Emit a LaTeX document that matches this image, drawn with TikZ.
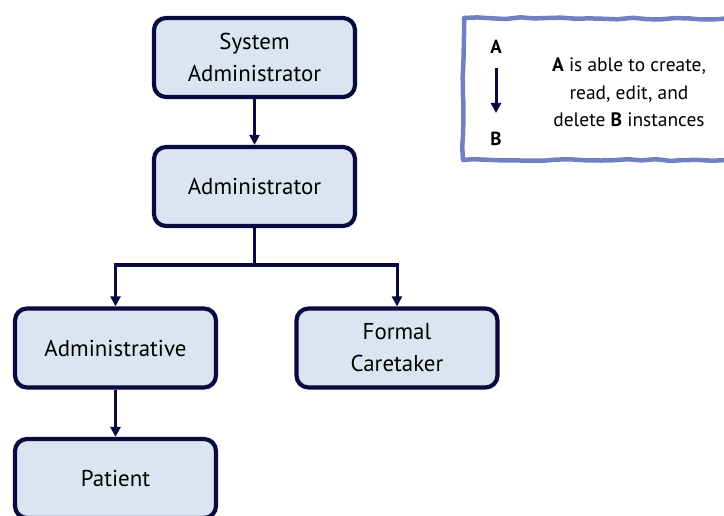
\documentclass[tikz,border=0pt]{standalone}
\usepackage{fontspec}
\setmainfont{PT Sans}
\usetikzlibrary{arrows.meta,decorations.pathmorphing}
\definecolor{navy}{RGB}{10,10,64}
\definecolor{boxfill}{RGB}{218,229,241}
\definecolor{legendline}{RGB}{112,128,192}
\begin{document}
\begin{tikzpicture}[x=1bp,y=-1bp,
  role/.style={draw=navy,line width=4.2bp,fill=boxfill,rounded corners=12bp,
    minimum width=201bp,minimum height=79bp,align=center,inner sep=0pt,
    font=\fontsize{23}{32}\selectfont},
  link/.style={draw=navy,line width=3bp,-{Triangle[length=10bp,width=10bp]}},
  legendtext/.style={font=\fontsize{19.5}{27.5}\selectfont,align=center}]
  \useasboundingbox (0,0) rectangle (724,516);
  \clip (0,0) rectangle (724,516);

  % role boxes
  \node[role] (sys)   at (254.5,57.5) {System\\Administrator};
  \node[role] (admin) at (254.5,186.5) {Administrator};
  \node[role] (adm)   at (115.5,348) {Administrative};
  \node[role] (care)  at (397,348) {Formal\\Caretaker};
  \node[role] (pat)   at (115.5,478.5) {Patient};

  % hierarchy connectors
  \coordinate (split) at (254.5,265);
  \draw[link] (sys.south) -- (admin.north);
  \draw[draw=navy,line width=3bp] (admin.south) -- (split);
  \draw[link] (split) -| (adm.north);
  \draw[link] (split) -| (care.north);
  \draw[link] (adm.south) -- (pat.north);

  % legend
  \draw[legendline,line width=4.5bp,line join=round,
    decorate,decoration={random steps,segment length=14bp,amplitude=0.9bp}]
    (464,18) -- (740,19) -- (740,160) -- (463,160) -- cycle;
  \node[font=\bfseries\fontsize{19}{20}\selectfont] (la) at (496,47) {A};
  \node[font=\bfseries\fontsize{19}{20}\selectfont] (lb) at (496,139) {B};
  \draw[link] (496,68) -- (496,113);
  \node[legendtext] (desc) at (629,92.5)
    {\textbf{A} is able to create,\\read, edit, and\\delete \textbf{B} instances};
\end{tikzpicture}
\end{document}
